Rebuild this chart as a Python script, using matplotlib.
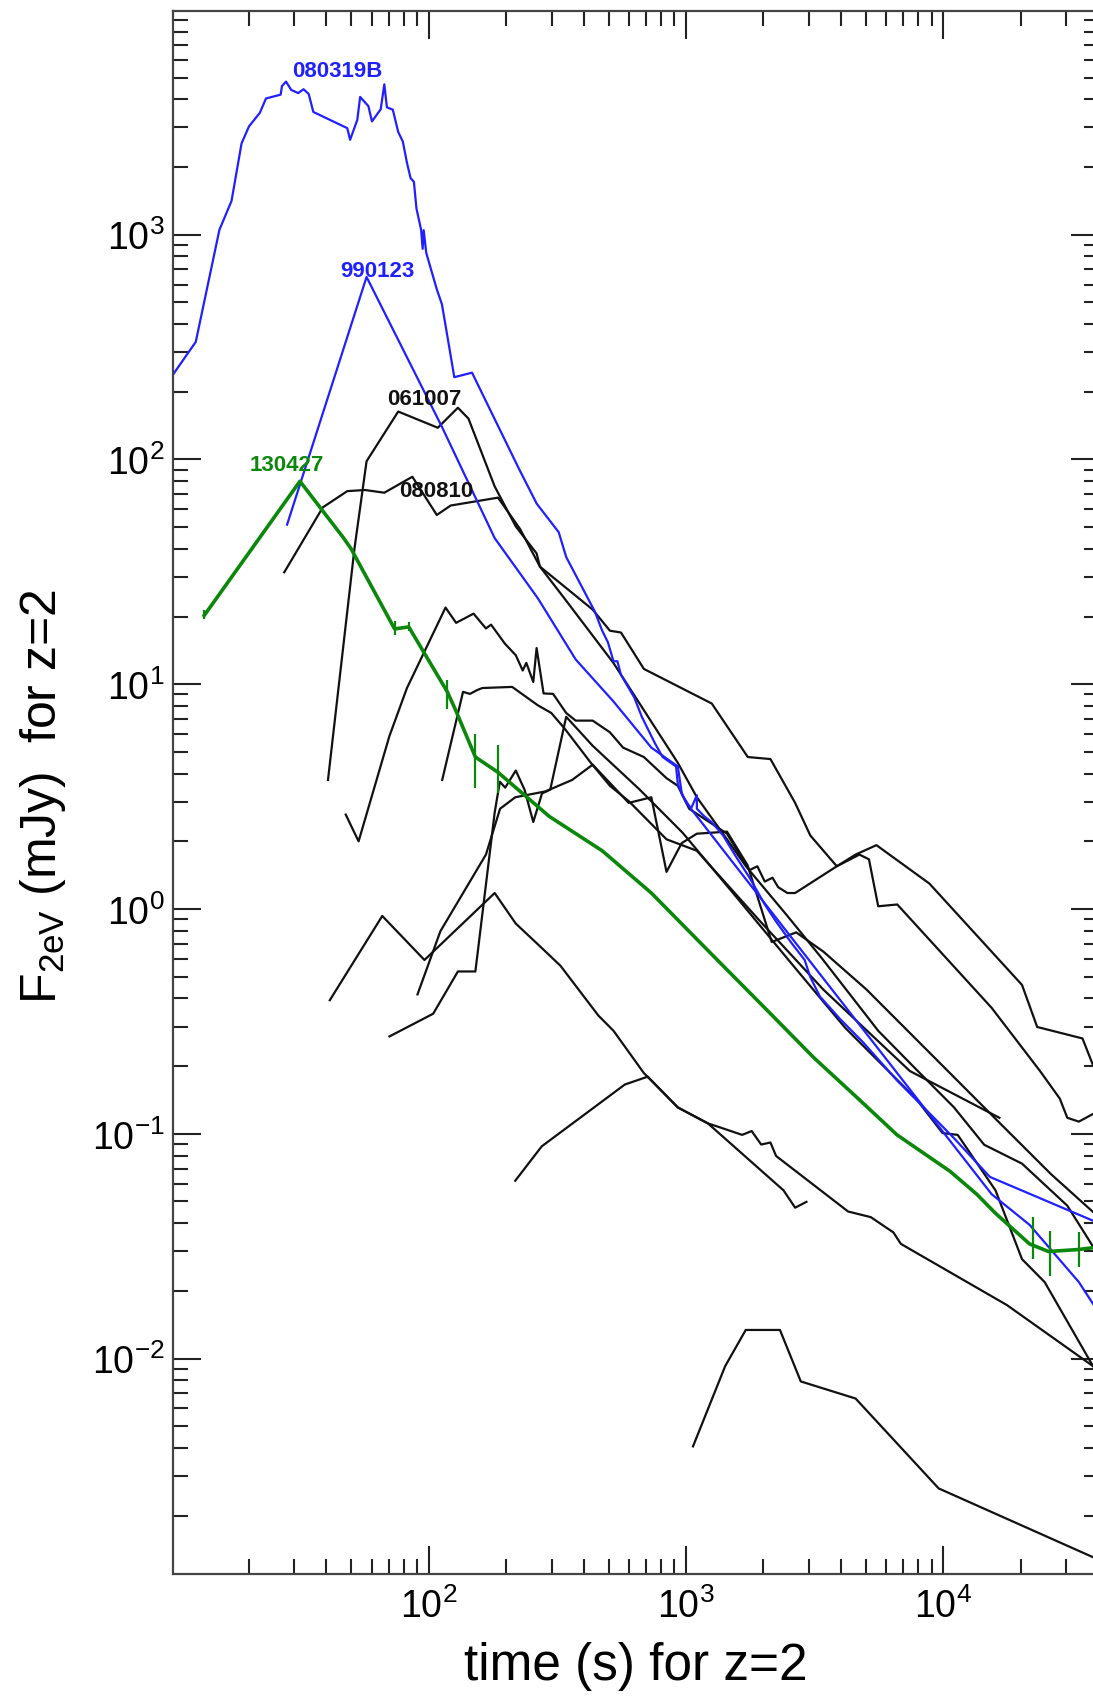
import matplotlib
matplotlib.use('Agg')
import matplotlib.pyplot as plt
import numpy as np
from matplotlib.ticker import LogLocator, LogFormatterMathtext, NullFormatter

plt.rcParams['font.family'] = ['Liberation Sans', 'DejaVu Sans']
plt.rcParams['mathtext.fontset'] = 'custom'
plt.rcParams['mathtext.rm'] = 'Liberation Sans'
plt.rcParams['mathtext.it'] = 'Liberation Sans:italic'
plt.rcParams['mathtext.bf'] = 'Liberation Sans:bold'

# light curves: log10(t [s]) and log10(F [mJy])
lt_080319B = [1.004, 1.094, 1.186, 1.233, 1.272, 1.301, 1.343, 1.367, 1.424, 1.429,
              1.445, 1.465, 1.492, 1.513, 1.533, 1.551, 1.683, 1.694, 1.722, 1.733,
              1.765, 1.779, 1.813, 1.827, 1.837, 1.860, 1.881, 1.899, 1.915, 1.929,
              1.942, 1.952, 1.970, 1.976, 1.980, 1.990, 2.031, 2.051, 2.079, 2.099,
              2.168, 2.249, 2.351, 2.419, 2.505, 2.534, 2.645, 2.674, 2.696, 2.718,
              2.733, 2.747, 2.799, 2.828, 2.880, 2.909, 2.961, 2.968, 2.997, 3.019,
              3.042, 3.042, 3.071, 3.100, 3.144, 3.189, 3.247, 3.306, 3.350, 3.409,
              3.461, 3.483, 3.520, 3.600, 3.688, 3.821, 3.924, 4.041, 4.181, 4.582]
lf_080319B = [2.375, 2.523, 3.022, 3.150, 3.406, 3.482, 3.542, 3.606, 3.623, 3.661,
              3.681, 3.644, 3.630, 3.647, 3.626, 3.546, 3.474, 3.422, 3.511, 3.613,
              3.572, 3.504, 3.558, 3.669, 3.567, 3.556, 3.457, 3.414, 3.320, 3.252,
              3.235, 3.116, 3.022, 2.937, 3.020, 2.919, 2.757, 2.690, 2.502, 2.366,
              2.386, 2.196, 1.957, 1.804, 1.676, 1.566, 1.324, 1.238, 1.187, 1.102,
              1.102, 1.042, 0.940, 0.855, 0.735, 0.676, 0.634, 0.556, 0.480, 0.446,
              0.506, 0.446, 0.412, 0.386, 0.327, 0.242, 0.139, 0.020, -0.056, -0.150,
              -0.227, -0.303, -0.389, -0.491, -0.593, -0.764, -0.883, -1.019, -1.192, -1.387]

lt_990123 = [1.449, 1.758, 2.051, 2.256, 2.424, 2.571, 2.718, 2.865, 2.968, 2.984,
             3.019, 4.188, 4.335, 4.527, 4.582]
lf_990123 = [1.710, 2.812, 2.145, 1.650, 1.382, 1.110, 0.923, 0.718, 0.634, 0.509,
             0.446, -1.269, -1.405, -1.660, -1.757]

lt_130427 = [1.127, 1.499, 1.669, 1.697, 1.867, 1.922, 2.072, 2.106, 2.181, 2.269,
             2.468, 2.674, 2.865, 3.100, 3.306, 3.497, 3.674, 3.820, 4.026, 4.130,
             4.203, 4.335, 4.409, 4.527, 4.582]
lf_130427 = [1.306, 1.903, 1.650, 1.604, 1.246, 1.255, 0.966, 0.880, 0.676, 0.608,
             0.412, 0.259, 0.071, -0.202, -0.440, -0.662, -0.849, -1.005, -1.167, -1.269,
             -1.354, -1.490, -1.524, -1.515, -1.507]
# error bars on 130427
err_lt = [1.127, 1.867, 1.922, 2.072, 2.181, 2.269, 4.349, 4.416, 4.527]
err_lo = [1.290, 1.220, 1.235, 0.888, 0.540, 0.514, -1.556, -1.635, -1.592]
err_hi = [1.330, 1.280, 1.275, 1.017, 0.778, 0.728, -1.369, -1.431, -1.439]

lt_061007 = [1.608, 1.711, 1.758, 1.881, 2.035, 2.113, 2.154, 2.256, 2.338, 2.419,
             2.432, 2.527, 2.718, 2.968, 3.042, 3.159, 3.232, 3.394, 3.527, 3.747,
             3.894, 4.041, 4.159, 4.306, 4.482, 4.582]
lf_061007 = [0.574, 1.604, 1.992, 2.213, 2.141, 2.230, 2.182, 1.880, 1.702, 1.582,
             1.523, 1.382, 1.094, 0.650, 0.497, 0.310, 0.191, -0.031, -0.218, -0.542,
             -0.713, -0.882, -1.049, -1.133, -1.320, -1.502]

lt_080810 = [1.438, 1.588, 1.683, 1.752, 1.827, 1.936, 2.031, 2.085, 2.269, 2.355,
             2.432, 2.637, 2.704, 2.747, 2.836, 3.100, 3.240, 3.328, 3.424, 3.483,
             3.586, 3.674, 3.711, 3.747, 3.821, 4.188, 4.376, 4.453, 4.482, 4.527, 4.582]
lf_080810 = [1.498, 1.787, 1.859, 1.864, 1.852, 1.923, 1.753, 1.795, 1.830, 1.690,
             1.523, 1.332, 1.238, 1.230, 1.068, 0.914, 0.676, 0.667, 0.472, 0.327,
             0.190, 0.242, 0.221, 0.012, 0.020, -0.440, -0.721, -0.844, -0.929, -0.946, -0.912]

lt_k3 = [1.677, 1.727, 1.847, 1.915, 2.065, 2.106, 2.174, 2.222, 2.242, 2.296,
         2.338, 2.365, 2.379, 2.406, 2.419, 2.446, 2.483, 2.534, 2.571, 2.637,
         2.704, 2.755, 2.836, 2.924, 2.968, 3.012, 3.159, 3.218, 3.247, 3.277,
         3.306, 3.336, 3.358, 3.394, 3.424, 3.586, 3.659, 3.740, 3.946, 4.306,
         4.365, 4.541, 4.582]
lf_k3 = [0.420, 0.301, 0.770, 0.983, 1.341, 1.273, 1.314, 1.248, 1.265, 1.180,
         1.129, 1.061, 1.095, 1.010, 1.161, 0.959, 0.957, 0.872, 0.838, 0.838,
         0.786, 0.718, 0.676, 0.582, 0.548, 0.446, 0.335, 0.224, 0.173, 0.190,
         0.122, 0.139, 0.097, 0.071, 0.071, 0.190, 0.242, 0.284, 0.113, -0.338,
         -0.525, -0.576, -0.695]

lt_k4 = [2.052, 2.133, 2.160, 2.188, 2.208, 2.324, 2.424, 2.476, 2.527, 2.630,
         2.704, 2.777, 2.924, 3.042, 3.281, 3.534, 3.870, 4.218]
lf_k4 = [0.574, 0.966, 0.957, 0.974, 0.983, 0.988, 0.906, 0.872, 0.804, 0.650,
         0.548, 0.480, 0.310, 0.259, -0.046, -0.359, -0.721, -0.929]

lt_k5 = [1.956, 2.045, 2.222, 2.277, 2.336, 2.453, 2.557, 2.637, 2.777, 2.865,
         2.924, 2.983, 3.042, 3.159, 3.239, 3.333, 3.428, 3.534, 3.702, 3.955,
         4.207, 4.418, 4.582]
lf_k5 = [-0.380, -0.099, 0.242, 0.446, 0.497, 0.523, 0.574, 0.642, 0.472, 0.497,
         0.165, 0.293, 0.335, 0.344, 0.195, -0.147, -0.104, -0.190, -0.359, -0.649,
         -0.938, -1.179, -1.348]

lt_k6 = [1.847, 2.017, 2.113, 2.181, 2.256, 2.276, 2.297, 2.338, 2.372, 2.406,
         2.440, 2.472, 2.534, 2.637, 2.818, 2.986, 3.197, 3.407, 3.618, 3.894,
         3.997, 4.056, 4.203, 4.306, 4.394, 4.582]
lf_k6 = [-0.567, -0.466, -0.278, -0.278, 0.429, 0.566, 0.540, 0.616, 0.531, 0.387,
         0.514, 0.531, 0.855, 0.726, 0.533, 0.340, 0.051, -0.239, -0.528, -0.844,
         -0.997, -1.005, -1.252, -1.558, -1.660, -2.034]

lt_k7 = [1.615, 1.819, 1.983, 2.256, 2.338, 2.433, 2.512, 2.659, 2.718, 2.836,
         2.968, 3.085, 3.379, 3.424, 3.468]
lf_k7 = [-0.406, -0.031, -0.227, 0.071, -0.065, -0.167, -0.253, -0.474, -0.542, -0.730,
         -0.883, -0.954, -1.252, -1.329, -1.303]

lt_k8 = [2.336, 2.439, 2.762, 2.851, 2.968, 3.085, 3.130, 3.218, 3.255, 3.292,
         3.328, 3.350, 3.630, 3.718, 3.806, 3.835, 4.247, 4.582]
lf_k8 = [-1.209, -1.056, -0.781, -0.746, -0.883, -0.954, -0.971, -1.005, -0.988, -1.048,
         -1.039, -1.099, -1.346, -1.371, -1.439, -1.490, -1.762, -2.034]

lt_k9 = [3.027, 3.152, 3.232, 3.365, 3.446, 3.659, 3.982, 4.582]
lf_k9 = [-2.391, -2.034, -1.873, -1.873, -2.102, -2.178, -2.578, -2.884]

# labels: name, log t, log F, colour
labels = [('080319B', 1.643, 3.729, 'blue'),
          ('990123', 1.799, 2.842, 'blue'),
          ('061007', 1.984, 2.269, 'black'),
          ('130427', 1.449, 1.979, 'green'),
          ('080810', 2.030, 1.864, 'black')]

BLUE = '#2020ff'
GREEN = '#0b870b'
BLACK = '#111111'
colors = {'blue': BLUE, 'green': GREEN, 'black': BLACK}

fig = plt.figure(figsize=(10.93, 16.99), dpi=100)
ax = fig.add_axes([0.158, 0.073, 0.8475, 0.920])

black_curves = [(lt_061007, lf_061007), (lt_080810, lf_080810), (lt_k3, lf_k3),
                (lt_k4, lf_k4), (lt_k5, lf_k5), (lt_k6, lf_k6), (lt_k7, lf_k7),
                (lt_k8, lf_k8), (lt_k9, lf_k9)]
for lt, lf in black_curves:
    ax.plot(10**np.array(lt), 10**np.array(lf), color=BLACK, lw=1.6)

ax.plot(10**np.array(lt_990123), 10**np.array(lf_990123), color=BLUE, lw=1.6)
ax.plot(10**np.array(lt_080319B), 10**np.array(lf_080319B), color=BLUE, lw=1.6)

ax.plot(10**np.array(lt_130427), 10**np.array(lf_130427), color=GREEN, lw=2.6)
ax.vlines(10**np.array(err_lt), 10**np.array(err_lo), 10**np.array(err_hi),
          color=GREEN, lw=1.6)

for name, x, y, c in labels:
    ax.text(10**x, 10**y, name, color=colors[c], fontsize=16, fontweight='bold',
            ha='center', va='center')

ax.set_xscale('log')
ax.set_yscale('log')
ax.set_xlim(10.1, 4.03e4)
ax.set_ylim(1.1e-3, 9.9e3)

ax.xaxis.set_major_locator(LogLocator(base=10))
ax.xaxis.set_minor_locator(LogLocator(base=10, subs=np.arange(2, 10)))
ax.yaxis.set_major_locator(LogLocator(base=10))
ax.yaxis.set_minor_locator(LogLocator(base=10, subs=np.arange(2, 10)))
ax.xaxis.set_major_formatter(LogFormatterMathtext())
ax.yaxis.set_major_formatter(LogFormatterMathtext())
ax.xaxis.set_minor_formatter(NullFormatter())
ax.yaxis.set_minor_formatter(NullFormatter())

ax.tick_params(which='both', direction='in', top=True, right=True,
               width=1.5, color='#222222', labelsize=27)
ax.tick_params(which='major', length=20)
ax.tick_params(which='minor', length=10.5)
ax.tick_params(axis='x', which='major', pad=10)
ax.tick_params(axis='y', which='major', pad=6)
for s in ax.spines.values():
    s.set_linewidth(1.6)
    s.set_color('#444444')

ax.set_xlabel('time (s) for z=2', fontsize=37)
ax.xaxis.set_label_coords(0.5, -0.043)
ax.set_ylabel(r'$\mathregular{F_{2eV}}$ (mJy)  for z=2', fontsize=36)
ax.yaxis.set_label_coords(-0.113, 0.498)

fig.savefig('out.png', dpi=100)
